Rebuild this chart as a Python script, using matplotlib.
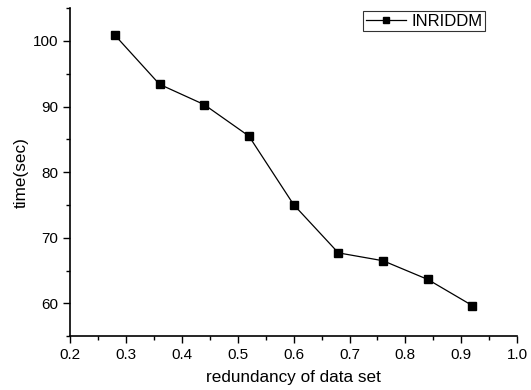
import matplotlib
matplotlib.use("Agg")
import matplotlib.pyplot as plt
from matplotlib.ticker import MultipleLocator

redundancy = [0.28, 0.36, 0.44, 0.52, 0.60, 0.68, 0.76, 0.84, 0.92]
time_sec = [100.9, 93.4, 90.3, 85.5, 75.05, 67.7, 66.5, 63.65, 59.65]
series_name = "INRIDDM"

plt.rcParams['font.family'] = ['Liberation Sans', 'DejaVu Sans']

fig = plt.figure(figsize=(5.31, 3.90), dpi=100)
ax = fig.add_axes([0.132, 0.138, 0.842, 0.841])
ax.plot(redundancy, time_sec, color='black', lw=0.9, marker='s', ms=5.3,
        markerfacecolor='black', label=series_name)
ax.set_xlim(0.2, 1.0)
ax.set_ylim(55, 105)
ax.xaxis.set_major_locator(MultipleLocator(0.1))
ax.xaxis.set_minor_locator(MultipleLocator(0.05))
ax.yaxis.set_major_locator(MultipleLocator(10))
ax.yaxis.set_minor_locator(MultipleLocator(5))
ax.set_yticks([60, 70, 80, 90, 100])
for s in ['top', 'right']:
    ax.spines[s].set_visible(False)
for s in ['left', 'bottom']:
    ax.spines[s].set_linewidth(1.2)
ax.tick_params(which='major', direction='out', length=5, width=1.0, labelsize=11)
ax.tick_params(which='minor', direction='out', length=3, width=1.0)
ax.set_xlabel('redundancy of data set', fontsize=12.3, labelpad=6)
ax.set_ylabel('time(sec)', fontsize=12.3, labelpad=3)
leg = ax.legend(loc='upper right', bbox_to_anchor=(0.928, 0.99), fontsize=12,
                frameon=True, fancybox=False, edgecolor='black',
                handlelength=2.4, borderpad=0.15, handletextpad=0.35,
                borderaxespad=0.0, markerscale=0.8)
leg.get_frame().set_linewidth(0.8)
fig.savefig('out.png', dpi=100)
